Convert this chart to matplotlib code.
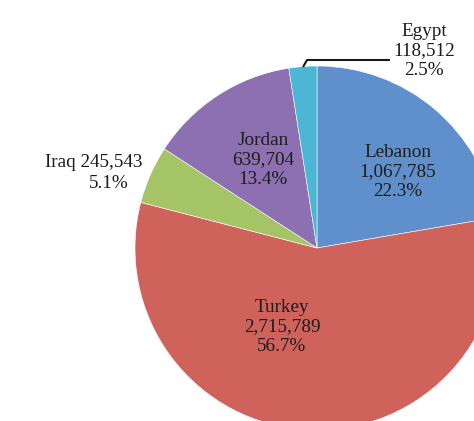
import numpy as np
import matplotlib.pyplot as plt

# refugee counts by host country
countries = ["Lebanon", "Turkey", "Iraq", "Jordan", "Egypt"]
refugees = [1067785, 2715789, 245543, 639704, 118512]
colors = ["#5F90CB", "#D0625C", "#A4C466", "#8D70B2", "#4CB6D4"]

plt.rcParams['font.family'] = ['Liberation Serif', 'DejaVu Serif']

W, H = 474, 421
fig = plt.figure(figsize=(W / 100, H / 100), dpi=100)
ax = fig.add_axes([0, 0, 1, 1])

def up(y):
    # picture rows counted from the top -> axes y counted from the bottom
    return H - y

cx, cy, r = 317, 248, 182
ax.pie(refugees, colors=colors, startangle=90, counterclock=False,
       center=(cx, up(cy)), radius=r,
       wedgeprops=dict(edgecolor="white", linewidth=0.4))

total = sum(refugees)
pct = [100 * v / total for v in refugees]
lbl = [f"{c}\n{v:,}\n{p:.1f}%" for c, v, p in zip(countries, refugees, pct)]

fs = 13.8
ls = 1.2
tc = "#1c1c1c"
ax.text(398, up(172), lbl[0], ha="center", va="center", fontsize=fs,
        linespacing=ls, color=tc)
ax.text(282, up(327), lbl[1], ha="center", va="center", fontsize=fs,
        linespacing=ls, color=tc)
ax.text(263, up(160), lbl[3], ha="center", va="center", fontsize=fs,
        linespacing=ls, color=tc)
ax.text(424, up(51), lbl[4], ha="center", va="center", fontsize=fs,
        linespacing=ls, color=tc)
# Iraq label sits outside the pie, two lines with offset centres
ax.text(94, up(167), f"{countries[2]} {refugees[2]:,}", ha="center",
        va="baseline", fontsize=fs, color=tc)
ax.text(109, up(188), f"{pct[2]:.1f}%", ha="center", va="baseline",
        fontsize=fs, color=tc)

# leader line for Egypt
ax.plot([303, 307, 390], [up(67), up(60), up(60)], color="#1a1a1a",
        linewidth=1.5, solid_capstyle="butt")

ax.set_xlim(0, W)
ax.set_ylim(0, H)
ax.set_aspect("equal")
ax.axis("off")
fig.savefig("out.png", dpi=100)
